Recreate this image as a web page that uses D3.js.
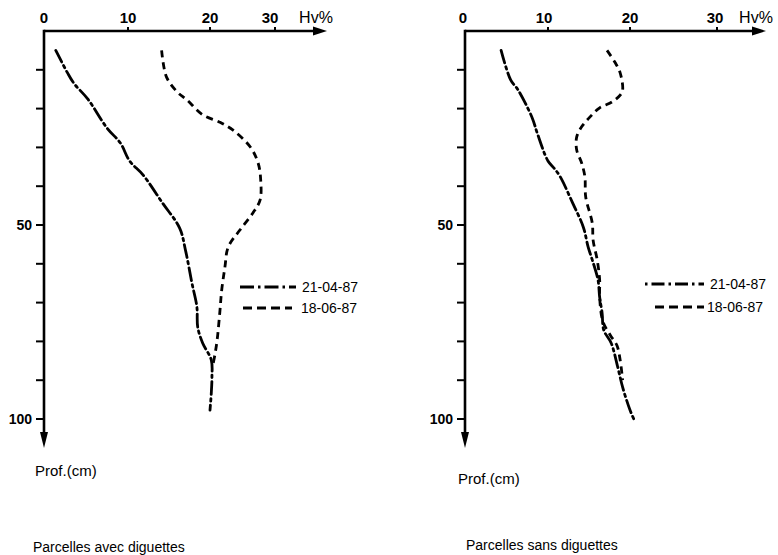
<!DOCTYPE html>
<html><head><meta charset="utf-8">
<script src="https://cdn.jsdelivr.net/npm/d3@7"></script>
<style>
html,body{margin:0;padding:0;background:#fff;}
svg{display:block;font-family:"Liberation Sans","Arial",sans-serif;}
</style></head>
<body><svg id="c" width="778" height="555"></svg>
<script>
// ---- data (Hv% vs depth in cm) ----
const xTicks = [0, 10, 20, 30];
const yTicks = [10, 20, 30, 40, 50, 60, 70, 80, 90, 100];
const yTickLabels = [50, 100];
const seriesNames = ["21-04-87", "18-06-87"];
const panelTitles = ["Parcelles avec diguettes", "Parcelles sans diguettes"];

// Left panel: avec diguettes
const leftA_hv    = [1.4, 2.8, 3.6, 5.2, 7.5, 9.1, 10.2, 11.8, 14.2, 16.3, 17.0, 17.8, 18.4, 18.5, 19.1, 20.2, 20.3, 20.2, 20.0];
const leftA_depth = [5, 10.8, 13.6, 17.5, 25, 28.9, 33.5, 37, 44.3, 50.8, 56.4, 65, 71.1, 76.3, 80.4, 84.8, 89.2, 93.3, 97.7];
const leftB_hv    = [14.1, 14.7, 16.0, 17.2, 19.1, 21.5, 23.5, 26.2, 27.4, 27.8, 27.7, 26.6, 24.6, 22.8, 22.3, 21.8, 21.5, 21.1, 20.8, 20.5];
const leftB_depth = [5, 11.9, 15.7, 17.8, 21.6, 23.5, 25.5, 29.9, 34, 38.4, 43.6, 46.9, 51.3, 55.7, 60.8, 66.8, 72.7, 79.6, 83, 85.6];

// Right panel: sans diguettes
const rightA_hv    = [4.35, 5.5, 6.4, 8.1, 8.7, 10.0, 10.8, 11.5, 13.0, 14.3, 14.9, 15.4, 16.1, 16.3, 16.6, 16.8, 17.7, 18.5, 19.1, 20.0, 20.5];
const rightA_depth = [5, 12.6, 15.2, 22.4, 26.3, 33.5, 35.5, 37.6, 44.3, 50.5, 55.7, 59, 64.2, 68.6, 72.7, 77.1, 80.4, 86.6, 91.8, 97.7, 100.3];
const rightB_hv    = [17.2, 18.2, 18.8, 19.1, 18.8, 17.8, 16.3, 15.1, 14.1, 13.5, 13.5, 14.1, 14.5, 14.6, 15.4, 15.5, 16.0, 16.3, 16.3, 16.7, 17.6, 18.4, 18.8, 19.1];
const rightB_depth = [5, 8.2, 10.8, 15.2, 16.5, 18.3, 19.8, 22.2, 24.7, 27.3, 30.7, 34, 37.6, 42.8, 49.5, 53.9, 59, 64.2, 68.6, 74.9, 78.4, 81, 84.8, 90];

const zip = (a, b) => a.map((v, i) => [v, b[i]]);

const svg = d3.select("#c");
const DASHDOT = "13,4,2.5,4";
const DASHED = "7,5";

function panel(cfg) {
  const x = d3.scaleLinear().domain(xTicks).range(cfg.xRange);
  const y = d3.scaleLinear().domain([0, 100]).range([31, 419]);
  const g = svg.append("g");
  const x0 = x(0), y0 = y(0);

  // axes lines
  g.append("line").attr("x1", x0).attr("y1", y0).attr("x2", cfg.xEnd - 10).attr("y2", y0)
    .attr("stroke", "#000").attr("stroke-width", 2.6);
  g.append("path").attr("d", `M${cfg.xEnd},${y0} L${cfg.xEnd - 14},${y0 - 4.5} L${cfg.xEnd - 14},${y0 + 4.5} Z`).attr("fill", "#000");
  g.append("line").attr("x1", x0).attr("y1", y0 - 1.3).attr("x2", x0).attr("y2", 436)
    .attr("stroke", "#000").attr("stroke-width", 2.6);
  g.append("path").attr("d", `M${x0},448 L${x0 - 4},432 L${x0 + 4},432 Z`).attr("fill", "#000");

  // y ticks
  g.selectAll(".yt").data(yTicks).enter().append("line")
    .attr("x1", x0 - 8).attr("x2", x0).attr("y1", d => y(d)).attr("y2", d => y(d))
    .attr("stroke", "#000").attr("stroke-width", 2);
  g.selectAll(".yl").data(yTickLabels).enter().append("text")
    .attr("x", x0 - 12).attr("y", d => y(d) + 5).attr("text-anchor", "end")
    .attr("font-size", 14).attr("font-weight", "bold").text(d => d);

  // x ticks
  g.selectAll(".xt").data(xTicks.slice(1)).enter().append("line")
    .attr("x1", d => x(d)).attr("x2", d => x(d)).attr("y1", y0 - 4).attr("y2", y0)
    .attr("stroke", "#000").attr("stroke-width", 2);
  g.selectAll(".xl").data(xTicks).enter().append("text")
    .attr("x", (d, i) => x(d) + cfg.xLabelShift[i]).attr("y", 23).attr("text-anchor", "middle")
    .attr("font-size", 15).attr("font-weight", "bold").text(d => d);
  g.append("text").attr("x", cfg.hvX).attr("y", 23).attr("text-anchor", "middle")
    .attr("font-size", 16).text("Hv%");

  // curves
  const line = d3.line().x(d => x(d[0])).y(d => y(d[1])).curve(d3.curveCatmullRom);
  g.append("path").datum(cfg.a).attr("d", line).attr("fill", "none").attr("stroke", "#000")
    .attr("stroke-width", 2.8).attr("stroke-dasharray", DASHDOT).attr("stroke-linecap", "round");
  g.append("path").datum(cfg.b).attr("d", line).attr("fill", "none").attr("stroke", "#000")
    .attr("stroke-width", 2.8).attr("stroke-dasharray", DASHED);

  // legend
  const L = cfg.legend;
  g.append("line").attr("x1", L.a[0]).attr("x2", L.a[1]).attr("y1", L.ay).attr("y2", L.ay)
    .attr("stroke", "#000").attr("stroke-width", 3).attr("stroke-dasharray", L.adash);
  g.append("text").attr("x", L.tx).attr("y", L.ay + 5).attr("font-size", 14).text(seriesNames[0]);
  g.append("line").attr("x1", L.b[0]).attr("x2", L.b[1]).attr("y1", L.by).attr("y2", L.by)
    .attr("stroke", "#000").attr("stroke-width", 3).attr("stroke-dasharray", "9,5");
  g.append("text").attr("x", L.tx2).attr("y", L.by + 5).attr("font-size", 14).text(seriesNames[1]);

  // labels
  g.append("text").attr("x", cfg.profX).attr("y", cfg.profY).attr("font-size", 15).text("Prof.(cm)");
  g.append("text").attr("x", cfg.titleX).attr("y", cfg.titleY).attr("font-size", 14).text(cfg.title);
}

panel({
  xRange: [44, 128, 210, 275], xEnd: 327, xLabelShift: [0, 0, 0, -5], hvX: 316,
  a: zip(leftA_hv, leftA_depth), b: zip(leftB_hv, leftB_depth),
  legend: {a: [240, 296], ay: 287, adash: "14,4,2.5,4", tx: 302, b: [243, 292], by: 308, tx2: 301},
  profX: 35, profY: 476, titleX: 33, titleY: 552, title: panelTitles[0]
});
panel({
  xRange: [465, 548, 630, 717], xEnd: 766, xLabelShift: [-2, -4, 0, -2], hvX: 756,
  a: zip(rightA_hv, rightA_depth), b: zip(rightB_hv, rightB_depth),
  legend: {a: [645, 704], ay: 284, adash: "2.5,4,13,4", tx: 710, b: [655, 704], by: 307, tx2: 707},
  profX: 458, profY: 484, titleX: 466, titleY: 550, title: panelTitles[1]
});
</script></body></html>
